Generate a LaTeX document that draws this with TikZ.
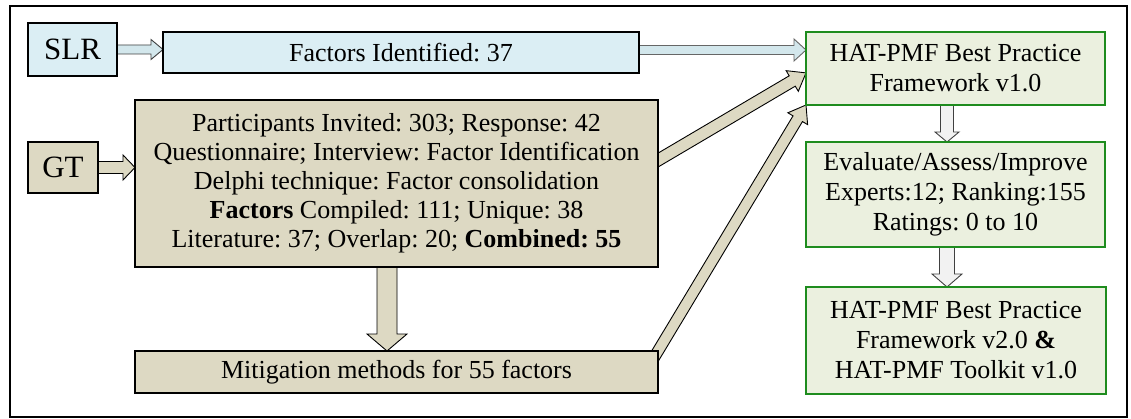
\documentclass[tikz,border=0pt]{standalone}
\usepackage{fontspec}
\setmainfont{Liberation Serif}
\frenchspacing
\usetikzlibrary{calc}
\pgfdeclarelayer{background}
\pgfsetlayers{background,main}

\definecolor{boxblue}{HTML}{DBEEF4}
\definecolor{boxtan}{HTML}{DDD9C3}
\definecolor{boxgreen}{HTML}{EBF0DF}
\definecolor{edgegreen}{HTML}{1E8C1E}
\definecolor{arrowblue}{HTML}{D3E7EC}
\definecolor{arrowedge}{HTML}{404040}

% Block arrow: #1 style, #2 start, #3 tip, #4 half shaft width,
% #5 half head width, #6 head length
\newcommand{\blockarrow}[6]{%
  \coordinate (bkh) at ($(#3)!#6!(#2)$);
  \draw[#1] ($(#2)!#4!-90:(#3)$) -- ($(bkh)!#4!-90:(#3)$)
    -- ($(bkh)!#5!-90:(#3)$) -- (#3) -- ($(bkh)!#5!90:(#3)$)
    -- ($(bkh)!#4!90:(#3)$) -- ($(#2)!#4!90:(#3)$) -- cycle;
}

\begin{document}
\begin{tikzpicture}[x=1pt,y=-1pt,
  box/.style={draw=black, line width=1.2pt, inner sep=0pt, outer sep=0pt,
    align=center, font=\fontsize{26}{30}\selectfont},
  bluebox/.style={box, fill=boxblue},
  tanbox/.style={box, fill=boxtan},
  greenbox/.style={box, draw=edgegreen, fill=boxgreen},
  srcbox/.style={font=\fontsize{31}{34}\selectfont},
  bluearrow/.style={fill=arrowblue, draw=arrowedge, line width=0.9pt},
  grayarrow/.style={fill=arrowblue, draw=gray!80!black, line width=0.9pt},
  tanarrow/.style={fill=boxtan, draw=black, line width=0.9pt},
  whitearrow/.style={fill=white!95!black, draw=arrowedge, line width=0.9pt}]

\useasboundingbox (0,0) rectangle (1131,419);

% sources
\node[bluebox, srcbox, minimum width=89, minimum height=53] (slr) at (72.5,49.5) {SLR};
\node[tanbox, srcbox, minimum width=70, minimum height=51] (gt) at (63,167.5) {GT};

% left column
\node[bluebox, minimum width=476, minimum height=41] (factors) at (401,52.5)
  {Factors Identified: 37};
\node[tanbox, minimum width=523, minimum height=167,
  font=\fontsize{26}{29}\selectfont] (survey) at (396.5,183.5)
  {Participants Invited: 303; Response: 42\\
   Questionnaire; Interview: Factor Identification\\
   Delphi technique: Factor consolidation\\
   \textbf{Factors} Compiled: 111; Unique: 38\\
   Literature: 37; Overlap: 20; \textbf{Combined: 55}};
\node[tanbox, minimum width=523, minimum height=42] (mitig) at (396.5,372)
  {Mitigation methods for 55 factors};

% right column
\node[greenbox, minimum width=299, minimum height=73] (v1) at (955.5,68.5)
  {HAT-PMF Best Practice\\ Framework v1.0};
\node[greenbox, minimum width=299, minimum height=105] (eval) at (955.5,194.5)
  {Evaluate/Assess/Improve\\ Experts:12; Ranking:155\\ Ratings: 0 to 10};
\node[greenbox, minimum width=300, minimum height=107] (v2) at (956,340.5)
  {HAT-PMF Best Practice\\ Framework v2.0 \textbf{\&}\\ HAT-PMF Toolkit v1.0};

% anchor points for the connectors
\coordinate (t1) at ($(v1.north west)+(0,18)$);
\coordinate (t1s) at (factors.east |- t1);
\coordinate (t2) at ($(v1.north west)!0.56!(v1.south west)$);
\coordinate (s2e) at ($(survey.north east)!0.36!(survey.south east)$);
\coordinate (s2) at ($(t2)!1.08!(s2e)$);
\coordinate (s3) at ($(v1.south west)!1.05!(mitig.north east)$);
\coordinate (d1) at ($(survey.south)+(-9.5,0)$);
\coordinate (d1t) at (d1 |- mitig.north);
\coordinate (r1) at ($(v1.south)+(-8.5,0)$);
\coordinate (r1t) at (r1 |- eval.north);
\coordinate (r2) at (r1 |- eval.south);
\coordinate (r2t) at (r1 |- v2.north);
\coordinate (a1t) at (slr.east -| factors.west);
\coordinate (a2t) at (gt.east -| survey.west);

\begin{pgfonlayer}{background}
  \fill[white] (0,0) rectangle (1131,419);
  \draw[line width=2.5pt] (10,6) rectangle (1127,417);
  \blockarrow{bluearrow}{slr.east}{a1t}{4.5pt}{10pt}{12pt}
  \blockarrow{grayarrow}{t1s}{t1}{4.5pt}{11pt}{12pt}
  \blockarrow{tanarrow}{gt.east}{a2t}{6pt}{12.5pt}{12pt}
  \blockarrow{tanarrow}{d1}{d1t}{10pt}{20pt}{17pt}
  \blockarrow{tanarrow}{s2}{t2}{6pt}{12pt}{16pt}
  \blockarrow{tanarrow}{s3}{v1.south west}{5.5pt}{11.5pt}{16pt}
  \blockarrow{whitearrow}{r1}{r1t}{6.5pt}{12pt}{10pt}
  \blockarrow{whitearrow}{r2}{r2t}{7.5pt}{15pt}{13pt}
\end{pgfonlayer}
\end{tikzpicture}
\end{document}
